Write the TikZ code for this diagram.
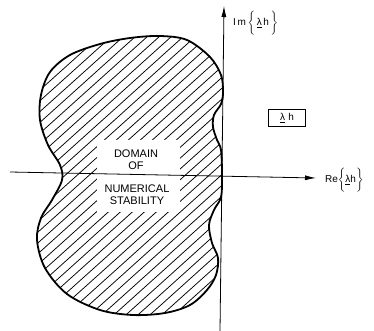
\documentclass[tikz,border=0pt]{standalone}
\usepackage{fontspec}
\setmainfont{Liberation Sans}
\usetikzlibrary{arrows.meta, positioning}

\begin{document}
\begin{tikzpicture}[
    x=1pt, y=-1pt,
    outline/.style={line width=1.8pt, line join=round},
    hatch/.style={line width=0.75pt},
    axis/.style={line width=0.8pt, -{Latex[length=11pt,width=5pt]}},
    lbl/.style={font=\fontsize{11}{12}\selectfont, align=center, inner sep=1pt},
    axlbl/.style={font=\fontsize{10}{12}\selectfont, inner sep=0pt, anchor=west},
]
\useasboundingbox (0,0) rectangle (374,331);

\def\domain{plot[smooth cycle, tension=0.55] coordinates {
    (160,36) (187,40) (210,57) (221,75) (223,92) (221,104) (214,115)
    (213,127) (217,140) (221,150) (222,175) (221,197) (214,210) (209,225)
    (212,243) (218,258) (216,275) (207,290) (190,305) (165,313) (133,315)
    (100,310) (67,294) (45,268) (37,240) (41,218) (52,200) (62,180)
    (60,165) (48,145) (40,120) (41,95) (50,72) (70,55) (100,44) (130,38)}}

% hatching of the stable region
\begin{scope}
  \clip \domain;
  \foreach \c in {-300,-288,...,216}
    \draw[hatch] (\c,331) -- ++(368,-331);
\end{scope}
\fill[white] (97,140) rectangle (180,212);
\draw[outline] \domain;

\node[lbl] (dom) at (136,160) {DOMAIN\\OF};
\node[lbl] (num) at (137,195) {NUMERICAL\\STABILITY};

% axes
\coordinate (reL) at (10,172);
\coordinate (reR) at (316,178);
\coordinate (imB) at (220,331);
\coordinate (imT) at (224,6);
\draw[axis] (reL) -- (reR);
\draw[axis] (imB) -- (imT);

\node[axlbl] (imlbl) at (233,23) {I\,m\,$\left\{\rule[-10.5pt]{0pt}{26pt}\mbox{\,\underline{λ}\,h\,}\right\}$};
\node[axlbl] (relbl) at (325,180) {Re$\left\{\rule[-10pt]{0pt}{25pt}\mbox{\underline{λ}h}\right\}$};
\node[draw, line width=1.4pt, minimum width=37pt, minimum height=17pt,
      font=\fontsize{10}{12}\selectfont] (lam) at (287,118) {\underline{λ}\,\,h};

\end{tikzpicture}
\end{document}
